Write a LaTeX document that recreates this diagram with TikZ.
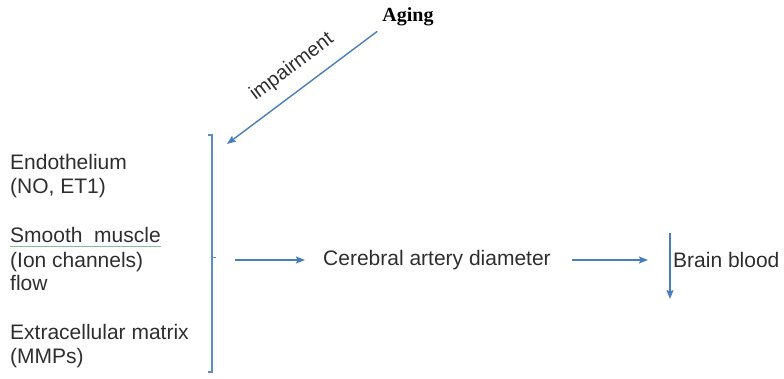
\documentclass[tikz,border=0pt]{standalone}
\usepackage{fontspec}
\setmainfont{Liberation Sans}
\newfontfamily\timesfont{Liberation Serif}
\usetikzlibrary{arrows.meta}
\definecolor{arrowblue}{HTML}{4A7EBB}
\definecolor{bracketblue}{HTML}{5E8CC4}
\definecolor{textgray}{HTML}{2E2E2E}
\definecolor{spellgreen}{HTML}{86C08A}

\begin{document}
\begin{tikzpicture}[x=1pt, y=-1pt,
    item/.style={anchor=base west, inner sep=0pt, text=textgray, font=\fontsize{21}{24}\selectfont},
    arrow/.style={-{Stealth[length=9pt, width=7pt, inset=1.5pt]}, line width=1.4pt, arrowblue},
    lbl/.style={inner sep=0pt, text=textgray, font=\fontsize{20}{22}\selectfont}
]
\useasboundingbox (0,0) rectangle (784,378);

% Top node
\node[inner sep=5pt, font=\timesfont\bfseries\fontsize{20}{22}\selectfont] (aging) at (408,17) {Aging};

% Left column
\node[item] (endo) at (10,169) {Endothelium};
\node[item] (noet) at (10,193) {(NO, ET1)};
\node[item] (smooth) at (10,242) {Smooth~~muscle};
\node[item] (ion) at (10,267) {(Ion channels)};
\node[item] (flow) at (10,290) {flow};
\node[item] (ecm) at (10,339) {Extracellular matrix};
\node[item] (mmp) at (10,363) {(MMPs)};
\draw[spellgreen, line width=0.8pt] ([yshift=-4pt]smooth.base west) -- ([yshift=-4pt]smooth.base east);

% Bracket
\coordinate (brtop) at (227,144);
\coordinate (brmid) at (235,260);
\draw[bracketblue, line width=1.3pt] (208,135) -- (212,135) -- (212,372) -- (208,372);
\draw[bracketblue, line width=1pt] (212,257) -- (216,257);

% Right part
\node[item, anchor=west] (cad) at (323,260) {Cerebral artery diameter};
\node[item, anchor=west] (brain) at (673,260) {Brain blood};
\coordinate (dtop) at (670,233);
\coordinate (dbot) at (670,299);

% Arrows
\draw[arrow] (aging.south west) -- (brtop);
\node[lbl, rotate=37] (impair) at (292,67) {impairment};
\draw[arrow, shorten >=18pt] (brmid) -- (cad.west);
\draw[arrow, shorten <=21pt, shorten >=25pt] (cad.east) -- (brain.west);
\draw[arrow] (dtop) -- (dbot);

\end{tikzpicture}
\end{document}
